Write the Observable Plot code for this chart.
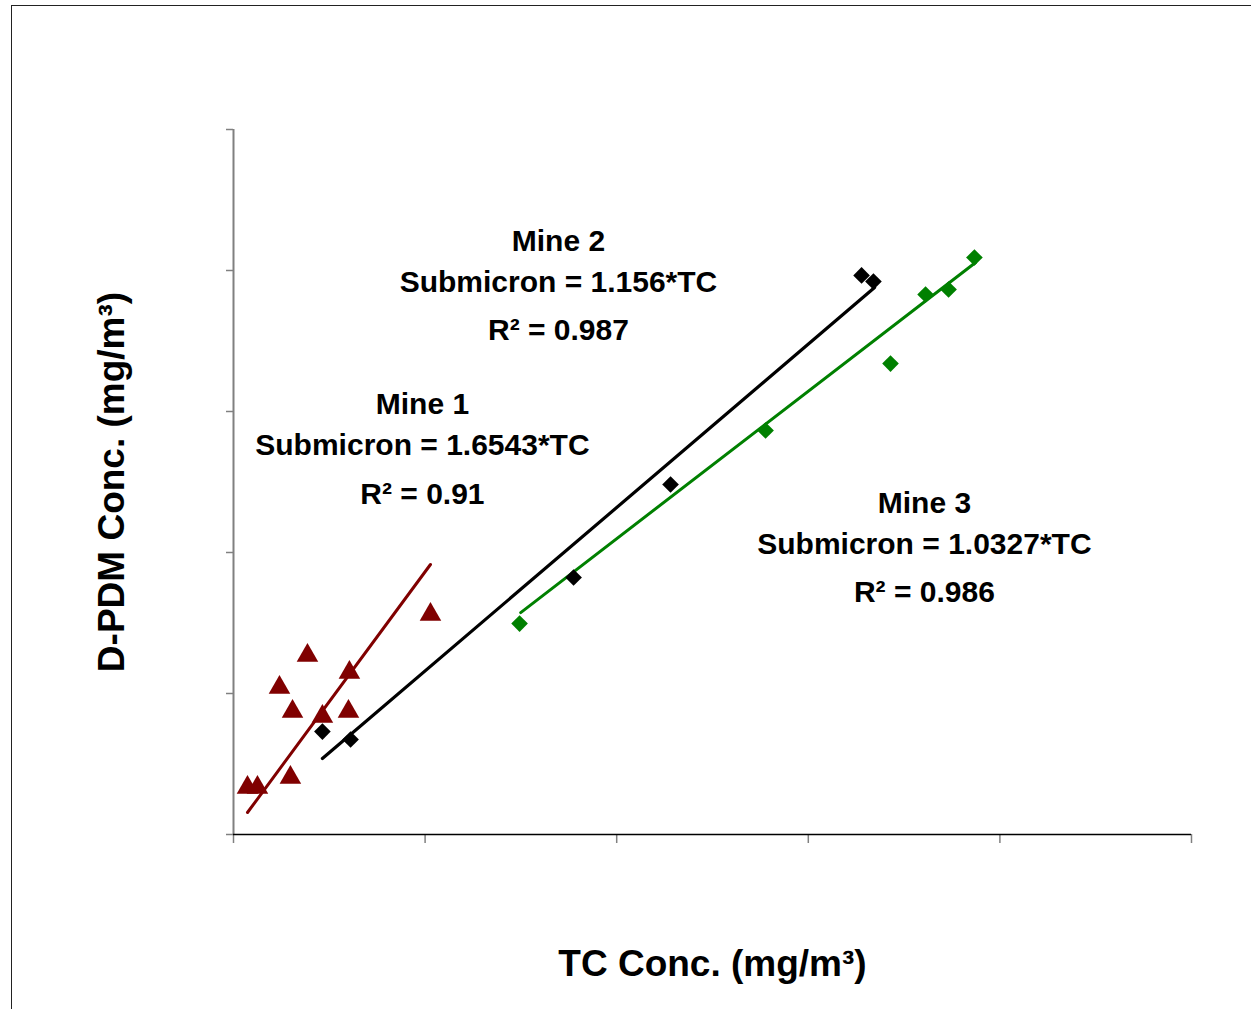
<!DOCTYPE html>
<html>
<head>
<meta charset="utf-8">
<script src="https://cdn.jsdelivr.net/npm/d3@7"></script>
<script src="https://cdn.jsdelivr.net/npm/@observablehq/plot@0.6"></script>
<style>
  html, body { margin: 0; padding: 0; background: #fff; }
  #wrap { position: relative; width: 1251px; height: 1009px; overflow: hidden; }
  #border { position: absolute; left: 11px; top: 5px; width: 1260px; height: 1020px;
            border-top: 1.5px solid #222; border-left: 1.5px solid #222; }
  #chart { position: absolute; left: 0; top: 0; }
</style>
</head>
<body>
<div id="wrap"><div id="border"></div><div id="chart"></div></div>
<script>
// ---- data (axis units 0..5, no tick labels shown) ----
const mine1TC   = [0.073, 0.125, 0.240, 0.308, 0.386, 0.464, 0.297, 0.605, 0.600, 1.028];
const mine1DPDM = [0.355, 0.355, 1.064, 0.894, 1.291, 0.858, 0.426, 1.170, 0.894, 1.582];

const mine2TC   = [0.464, 0.611, 1.775, 2.281, 3.278, 3.340];
const mine2DPDM = [0.730, 0.674, 1.823, 2.482, 3.965, 3.922];

const mine3TC   = [1.493, 2.777, 3.429, 3.612, 3.732, 3.867];
const mine3DPDM = [1.496, 2.865, 3.340, 3.830, 3.865, 4.092];

// trendline end points
const fit1TC = [0.073, 1.028], fit1DPDM = [0.156, 1.915];
const fit2TC = [0.464, 3.346], fit2DPDM = [0.539, 3.879];
const fit3TC = [1.499, 3.873], fit3DPDM = [1.574, 4.057];

const xTicks = [0, 1, 2, 3, 4, 5];
const yTicks = [0, 1, 2, 3, 4, 5];

// annotation texts and their anchor points (data units)
const labelMine = ["Mine 1", "Mine 2", "Mine 3"];
const labelEq   = ["Submicron = 1.6543*TC", "Submicron = 1.156*TC", "Submicron = 1.0327*TC"];
const labelR2   = ["R\u00B2 = 0.91", "R\u00B2 = 0.987", "R\u00B2 = 0.986"];
const labelX    = [0.986, 1.696, 3.606];
const labelYMine = [3.050, 4.206, 2.348];
const labelYEq   = [2.759, 3.915, 2.057];
const labelYR2   = [2.411, 3.574, 1.716];

const xTitle = "TC Conc. (mg/m\u00B3)";
const yTitle = "D-PDM Conc. (mg/m\u00B3)";

// ---- build tables ----
const zip = (xs, ys) => xs.map((x, i) => ({x, y: ys[i]}));
const m1 = zip(mine1TC, mine1DPDM), m2 = zip(mine2TC, mine2DPDM), m3 = zip(mine3TC, mine3DPDM);
const f1 = zip(fit1TC, fit1DPDM), f2 = zip(fit2TC, fit2DPDM), f3 = zip(fit3TC, fit3DPDM);
const labels = [];
labelMine.forEach((t, i) => {
  labels.push({x: labelX[i], y: labelYMine[i], text: t});
  labels.push({x: labelX[i], y: labelYEq[i], text: labelEq[i]});
  labels.push({x: labelX[i], y: labelYR2[i], text: labelR2[i]});
});

const RED = "#800000", GREEN = "#008000";
const font = "'Liberation Sans', Arial, sans-serif";

const chart = Plot.plot({
  width: 1251,
  height: 1009,
  marginLeft: 233,
  marginRight: 60,
  marginTop: 129,
  marginBottom: 175,
  style: {background: "transparent", fontFamily: font},
  x: {domain: [0, 5], axis: null},
  y: {domain: [0, 5], axis: null},
  marks: [
    Plot.axisY({ticks: yTicks, tickSize: 7, tickFormat: () => "", stroke: "#808080", strokeWidth: 1.5, label: null}),
    Plot.axisX({ticks: xTicks, tickSize: 9, tickFormat: () => "", stroke: "#808080", strokeWidth: 1.5, label: null}),
    Plot.ruleX([0], {stroke: "#808080", strokeWidth: 2}),
    Plot.ruleY([0], {stroke: "#000", strokeWidth: 1.5}),
    Plot.line(f1, {x: "x", y: "y", stroke: RED, strokeWidth: 3}),
    Plot.line(f2, {x: "x", y: "y", stroke: "#000", strokeWidth: 3.2}),
    Plot.line(f3, {x: "x", y: "y", stroke: GREEN, strokeWidth: 3}),
    Plot.dot(m3, {x: "x", y: "y", symbol: "diamond2", r: 7.5, fill: GREEN, stroke: "none"}),
    Plot.dot(m2, {x: "x", y: "y", symbol: "diamond2", r: 7.5, fill: "#000", stroke: "none"}),
    Plot.dot(m1, {x: "x", y: "y", symbol: "triangle", r: 8, dy: 3, fill: RED, stroke: "none"}),
    Plot.text(labels, {x: "x", y: "y", text: "text", fontSize: 30, fontWeight: "bold",
      fill: "#000", textAnchor: "middle", lineAnchor: "middle"}),
    Plot.text([xTitle], {text: d => d, frameAnchor: "bottom", dy: 130, lineAnchor: "middle",
      textAnchor: "middle", fontSize: 37, fontWeight: "bold", fill: "#000"}),
    Plot.text([yTitle], {text: d => d, frameAnchor: "left", dx: -121, rotate: -90, lineAnchor: "middle",
      textAnchor: "middle", fontSize: 37, fontWeight: "bold", fill: "#000"})
  ]
});
document.getElementById("chart").appendChild(chart);
</script>
</body>
</html>
